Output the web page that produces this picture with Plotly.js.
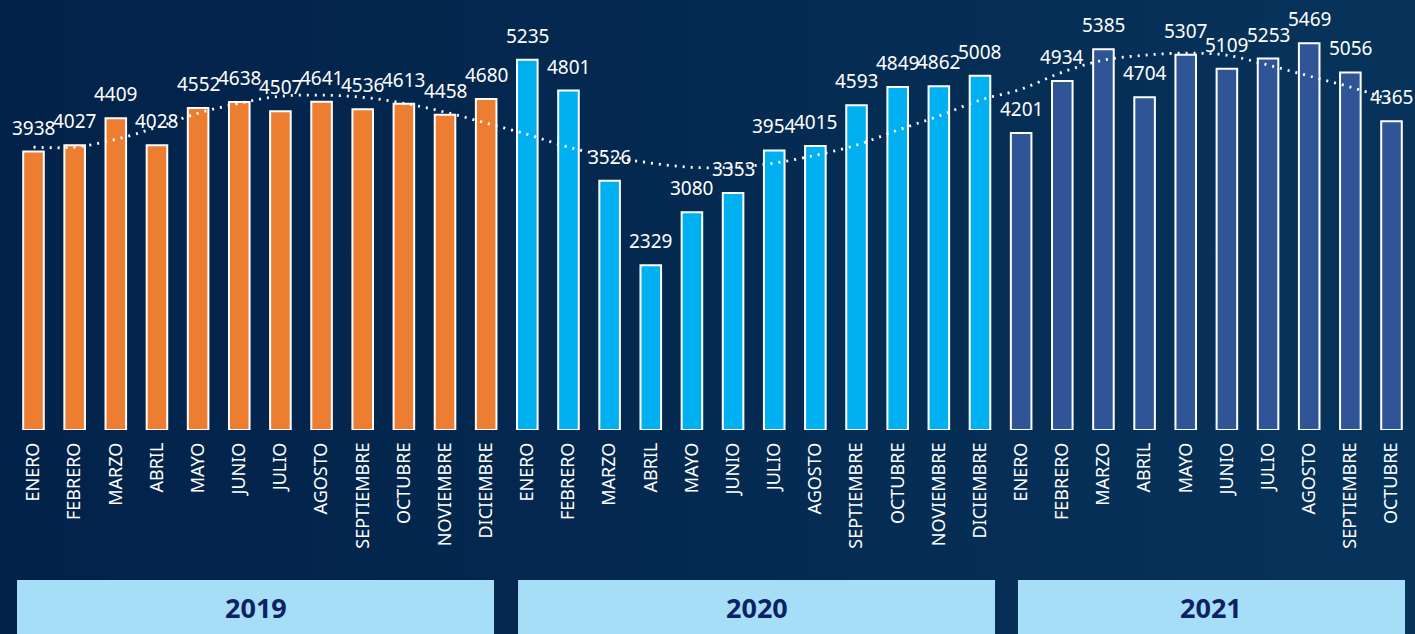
<!DOCTYPE html>
<html>
<head>
<meta charset="utf-8">
<script src="https://cdn.plot.ly/plotly-3.0.1.min.js"></script>
<style>
  html, body { margin: 0; padding: 0; }
  #chart { width: 1415px; height: 634px; background: linear-gradient(90deg, #02224a 0%, #04284f 40%, #07335b 100%); }
</style>
</head>
<body>
<div id="chart"></div>
<script>
const years = ['2019', '2020', '2021'];
const months = ['ENERO', 'FEBRERO', 'MARZO', 'ABRIL', 'MAYO', 'JUNIO', 'JULIO', 'AGOSTO', 'SEPTIEMBRE', 'OCTUBRE', 'NOVIEMBRE', 'DICIEMBRE'];
const values2019 = [3938, 4027, 4409, 4028, 4552, 4638, 4507, 4641, 4536, 4613, 4458, 4680];
const values2020 = [5235, 4801, 3526, 2329, 3080, 3353, 3954, 4015, 4593, 4849, 4862, 5008];
const values2021 = [4201, 4934, 5385, 4704, 5307, 5109, 5253, 5469, 5056, 4365];
// dotted trend line at each month
const trend = [4000, 4000, 4110, 4280, 4480, 4620, 4720, 4735, 4705, 4620, 4495, 4340,
               4180, 4000, 3870, 3775, 3715, 3715, 3775, 3885, 4030, 4240, 4440, 4665,
               4820, 5060, 5230, 5300, 5330, 5300, 5160, 5005, 4850, 4665];
const yearColors = ['#ED7D31', '#00B0F0', '#2F5597'];

const series = [values2019, values2020, values2021];
const xKeys = [], yVals = [], colors = [], tickText = [];
series.forEach((vals, yi) => {
  vals.forEach((v, mi) => {
    xKeys.push(years[yi] + ' ' + months[mi]);
    yVals.push(v);
    colors.push(yearColors[yi]);
    tickText.push(months[mi]);
  });
});

const traces = [
  {
    type: 'bar',
    x: xKeys,
    y: yVals,
    width: 0.5,
    marker: { color: colors, line: { color: '#ffffff', width: 2 } },
    hoverinfo: 'x+y'
  },
  {
    type: 'scatter',
    mode: 'lines',
    x: xKeys,
    y: trend,
    line: { color: '#ffffff', width: 2.8, dash: '2px,6px', shape: 'spline' },
    hoverinfo: 'skip'
  }
];

const annotations = xKeys.map((k, i) => ({
  x: k, y: yVals[i], xref: 'x', yref: 'y',
  text: String(yVals[i]),
  showarrow: false, yanchor: 'bottom', yshift: 9,
  font: { family: 'Noto Sans', size: 19, color: '#ffffff' }
}));

// year band extents in paper fractions
const bandX = [[0.005, 0.3445], [0.3616, 0.7011], [0.7174, 0.9929]];
const shapes = [];
bandX.forEach((b, yi) => {
  shapes.push({
    type: 'rect', xref: 'paper', yref: 'paper',
    x0: b[0], x1: b[1], y0: -0.379, y1: -0.53,
    fillcolor: '#A6DDF7', line: { width: 0 }, layer: 'above'
  });
  annotations.push({
    x: (b[0] + b[1]) / 2, y: -0.447, xref: 'paper', yref: 'paper',
    text: '<b>' + years[yi] + '</b>', showarrow: false,
    xanchor: 'center', yanchor: 'middle',
    font: { family: 'Noto Sans', size: 27, color: '#0c2262' }
  });
});

const layout = {
  width: 1415, height: 634,
  margin: { l: 10, r: 0, t: 34, b: 204 },
  paper_bgcolor: 'rgba(0,0,0,0)',
  plot_bgcolor: 'rgba(0,0,0,0)',
  showlegend: false,
  xaxis: {
    type: 'category',
    tickvals: xKeys, ticktext: tickText,
    tickangle: -90, ticks: '', showline: false, showgrid: false, zeroline: false,
    ticklabelstandoff: 8,
    tickfont: { family: 'Noto Sans', size: 18, color: '#ffffff' },
    automargin: false, fixedrange: true
  },
  yaxis: {
    range: [0, 5600], visible: false, showgrid: false, zeroline: false, fixedrange: true
  },
  bargap: 0.5,
  shapes: shapes,
  annotations: annotations
};

Plotly.newPlot('chart', traces, layout, { displayModeBar: false });
</script>
</body>
</html>
